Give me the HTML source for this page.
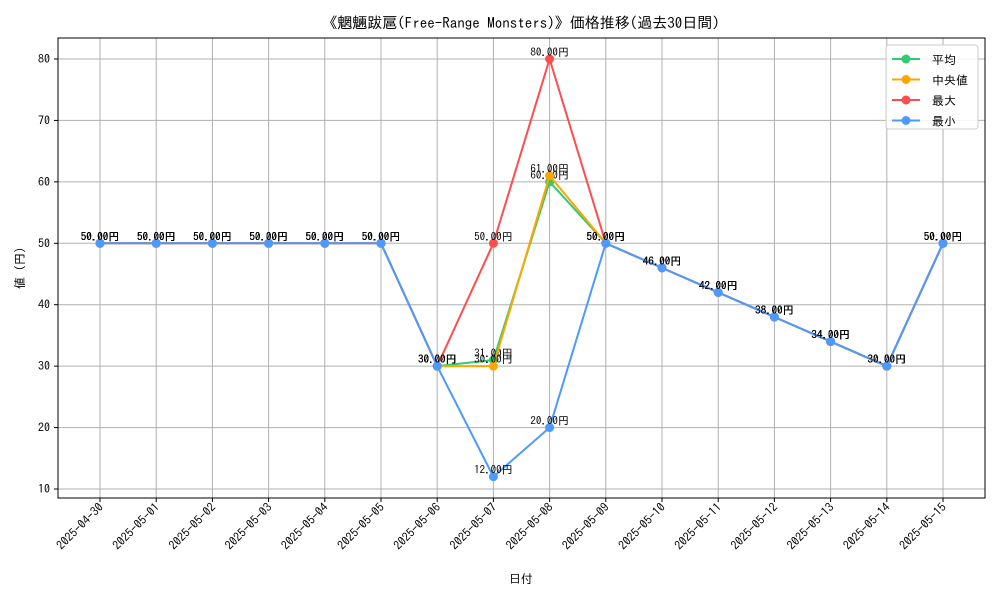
<!DOCTYPE html>
<html><head><meta charset="utf-8"><style>
body{margin:0;background:#fff;}
svg text{font-family:"IPAGothic","Liberation Mono","Noto Sans CJK JP",monospace;}
</style></head><body>
<svg id="chart" width="1000" height="600" xmlns="http://www.w3.org/2000/svg">
<rect width="1000" height="600" fill="#fff"/>
<text x="521" y="28" font-size="15" text-anchor="middle">《魍魎跋扈(Free-Range Monsters)》価格推移(過去30日間)</text>
<g id="grid"></g>
<g id="axes"></g>
<g id="series"></g>
<rect x="58" y="38" width="927" height="460" fill="none" stroke="#000" stroke-width="1"/>
<text x="521" y="583" font-size="12" text-anchor="middle">日付</text>
<text x="24" y="268" font-size="12" text-anchor="middle" transform="rotate(-90 24 268)">値 (円)</text>
<g id="legend">
<rect x="886" y="45" width="92" height="84" rx="3" fill="#fff" fill-opacity="0.85" stroke="#ccc"/>
</g>
</svg>
<script>
const categories=["2025-04-30","2025-05-01","2025-05-02","2025-05-03","2025-05-04","2025-05-05","2025-05-06","2025-05-07","2025-05-08","2025-05-09","2025-05-10","2025-05-11","2025-05-12","2025-05-13","2025-05-14","2025-05-15"];
const avgValues=[50,50,50,50,50,50,30,31,60,50,46,42,38,34,30,50];
const medianValues=[50,50,50,50,50,50,30,30,61,50,46,42,38,34,30,50];
const maxValues=[50,50,50,50,50,50,30,50,80,50,46,42,38,34,30,50];
const minValues=[50,50,50,50,50,50,30,12,20,50,46,42,38,34,30,50];
const yTicks=[10,20,30,40,50,60,70,80];
const seriesNames=["平均","中央値","最大","最小"];
const NS="http://www.w3.org/2000/svg";
function xs(i){return 100+i*(843/15);}
function ys(v){return 489-(v-10)*(430/70);}
function mk(t,a,p){const e=document.createElementNS(NS,t);for(const k in a)e.setAttribute(k,a[k]);p.appendChild(e);return e;}
const grid=document.getElementById('grid'),axes=document.getElementById('axes'),ser=document.getElementById('series'),leg=document.getElementById('legend');
yTicks.forEach(v=>{const y=ys(v);
const g=mk('line',{x1:58,x2:985,y1:y,y2:y,stroke:'#b0b0b0','stroke-width':1},grid);

mk('line',{x1:54,x2:58,y1:y,y2:y,stroke:'#000'},axes);
const t=mk('text',{x:50,y:y+4,'font-size':12,'text-anchor':'end'},axes);t.textContent=v;
});
categories.forEach((c,i)=>{const x=xs(i);
const g=mk('line',{x1:x,x2:x,y1:38,y2:498,stroke:'#b0b0b0','stroke-width':1},grid);

mk('line',{x1:x,x2:x,y1:498,y2:502,stroke:'#000'},axes);
const t=mk('text',{x:x+4,y:508,'font-size':12,'text-anchor':'end',transform:`rotate(-45 ${x+4} 508)`},axes);t.textContent=c;
});
const all=[[avgValues,'#2ecc71','avg'],[medianValues,'#ffa500','median'],[maxValues,'#ff4c4c','max'],[minValues,'#4c9aff','min']];
all.forEach(([vals,col,key],si)=>{
const g=mk('g',{},ser);
const pl=mk('polyline',{points:vals.map((v,i)=>xs(i)+','+ys(v)).join(' '),fill:'none',stroke:col,'stroke-width':2},g);

vals.forEach((v,i)=>{const c=mk('circle',{cx:xs(i),cy:ys(v),r:4.5,fill:col},g);

const t=mk('text',{x:xs(i),y:ys(v)-3,'font-size':11,'text-anchor':'middle'},g);t.textContent=v.toFixed(2)+'円';
});
const ly=59+si*20.5;
const ll=mk('line',{x1:892,x2:920,y1:ly,y2:ly,stroke:col,'stroke-width':2},leg);

mk('circle',{cx:906,cy:ly,r:4.5,fill:col},leg);
const lt=mk('text',{x:932,y:ly+5,'font-size':12},leg);lt.textContent=(si==1?' ':'')+seriesNames[si];

});
</script>
</body></html>
